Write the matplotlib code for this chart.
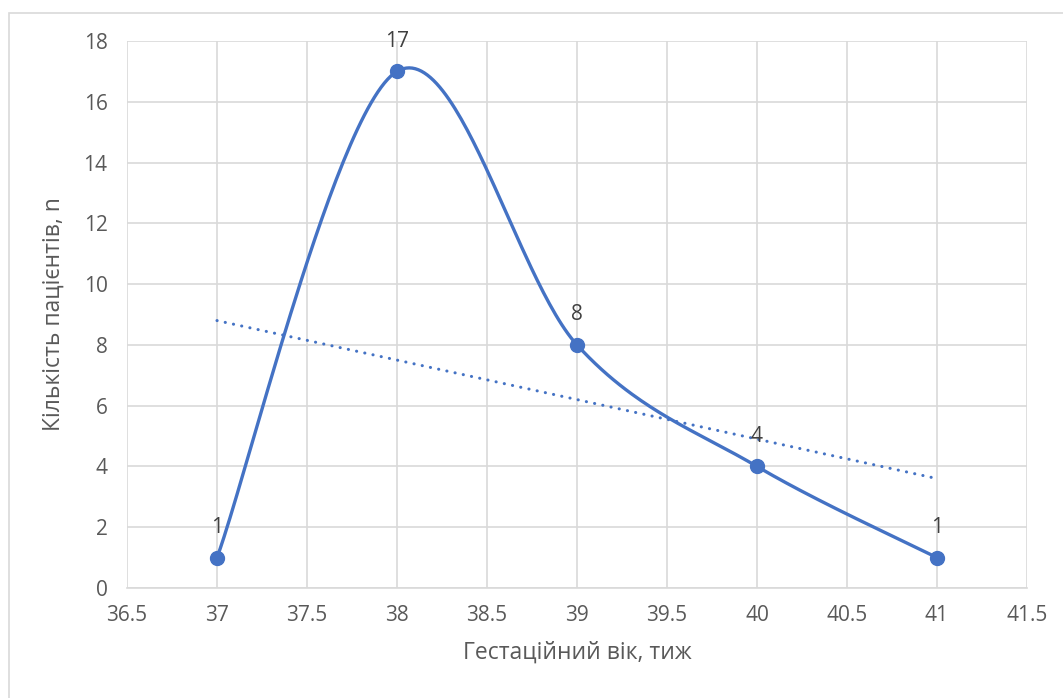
import numpy as np
import matplotlib
matplotlib.use("Agg")
import matplotlib.pyplot as plt
from matplotlib.patches import Rectangle

weeks = [37, 38, 39, 40, 41]
patients = [1, 17, 8, 4, 1]
x_ticks = [36.5, 37, 37.5, 38, 38.5, 39, 39.5, 40, 40.5, 41, 41.5]
y_ticks = [0, 2, 4, 6, 8, 10, 12, 14, 16, 18]
x_label = "Гестаційний вік, тиж"
y_label = "Кількість пацієнтів, n"

plt.rcParams['font.family'] = ['Open Sans', 'DejaVu Sans']

def smooth(xs, ys, n=60):
    P = np.column_stack([xs, ys]).astype(float)
    m = len(P)
    out = []
    for i in range(m - 1):
        p0 = P[i - 1] if i > 0 else P[i]
        p1 = P[i]
        p2 = P[i + 1]
        p3 = P[i + 2] if i + 2 < m else P[i + 1]
        c1 = p1 + (p2 - p0) / 6
        c2 = p2 - (p3 - p1) / 6
        t = np.linspace(0, 1, n)[:, None]
        seg = ((1 - t) ** 3) * p1 + 3 * ((1 - t) ** 2) * t * c1 + 3 * (1 - t) * t ** 2 * c2 + t ** 3 * p2
        out.append(seg if i == 0 else seg[1:])
    s = np.vstack(out)
    return s[:, 0], s[:, 1]

fig = plt.figure(figsize=(10.63, 6.98), dpi=100)
ax = fig.add_axes([127 / 1063, 1 - 588 / 698, 900 / 1063, 547 / 698])

fig.patches.append(Rectangle((9 / 1063, -0.1), 1.2, (698 - 13) / 698 + 0.1,
                             transform=fig.transFigure, fill=False,
                             edgecolor='#d9d9d9', linewidth=1.2))

color = '#4472C4'
sx, sy = smooth(weeks, patients)
ax.plot(sx, sy, color=color, linewidth=2.4, zorder=3, solid_capstyle='round')
ax.plot(weeks, patients, 'o', color=color, markersize=10, zorder=4)

coef = np.polyfit(weeks, patients, 1)
tx = np.array([weeks[0], weeks[-1]], dtype=float)
ax.plot(tx, np.polyval(coef, tx), color=color, linewidth=2.2,
        linestyle=(0, (0.05, 2.7)), dash_capstyle='round', zorder=3)

for xv, yv in zip(weeks, patients):
    ax.annotate(str(yv), (xv, yv), xytext=(0, 14), textcoords='offset points',
                ha='center', va='bottom', fontsize=15, color='#404040')

ax.set_xlim(36.5, 41.5)
ax.set_ylim(0, 18)
ax.set_xticks(x_ticks)
ax.set_xticklabels([f"{v:g}" for v in x_ticks])
ax.set_yticks(y_ticks)
ax.grid(True, color='#d9d9d9', linewidth=1.2)
ax.set_axisbelow(True)
for s in ax.spines.values():
    s.set_visible(False)
ax.spines['bottom'].set_visible(True)
ax.spines['bottom'].set_color('#d9d9d9')
ax.spines['bottom'].set_linewidth(1.2)
ax.tick_params(length=0, labelsize=15, colors='#595959')
ax.tick_params(axis='x', pad=12)
ax.tick_params(axis='y', pad=14)
ax.set_xlabel(x_label, fontsize=16.5, color='#595959', labelpad=11)
ax.set_ylabel(y_label, fontsize=16.5, color='#595959', labelpad=13)

fig.savefig("out.png", dpi=100)
